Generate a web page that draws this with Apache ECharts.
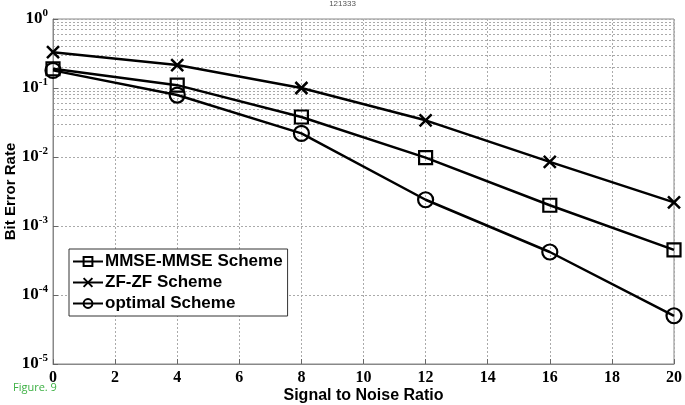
<!DOCTYPE html>
<html><head><meta charset="utf-8">
<script src="https://cdn.jsdelivr.net/npm/echarts@6/dist/echarts.min.js"></script>
<style>html,body{margin:0;padding:0;background:#fff}#c{width:685px;height:405px}</style>
</head><body><div id="c"></div>
<script>
var snr = [0, 4, 8, 12, 16, 20];
var mmse = [0.19, 0.11, 0.038, 0.0098, 0.0020, 0.00045];
var zf = [0.33, 0.215, 0.10, 0.034, 0.0085, 0.0022];
var optimal = [0.18, 0.079, 0.022, 0.0024, 0.00042, 0.00005];
var minorTicks = [];
[1e-5, 1e-4, 1e-3, 1e-2, 1e-1].forEach(function (d) {
  for (var k = 2; k <= 9; k++) minorTicks.push(+(d * k).toPrecision(3));
});
function pairs(v) { return snr.map(function (x, i) { return [x, v[i]]; }); }
var chart = echarts.init(document.getElementById('c'));
var lineW = 2.5;
chart.setOption({
  animation: false,
  graphic: [
    { type: 'text', left: 'center', top: 0, style: { text: '121333', fontSize: 8, fill: '#555', fontFamily: 'Liberation Sans' } },
    { type: 'text', left: 13, top: 382, style: { text: 'Figure. 9', fontSize: 11, fill: '#3cb043', fontFamily: 'Open Sans' } }
  ],
  grid: { left: 53, right: 11, top: 19, bottom: 41, show: true, borderColor: '#888', borderWidth: 1, containLabel: false, outerBoundsMode: 'none' },
  xAxis: {
    type: 'value', min: 0, max: 20, interval: 2,
    name: 'Signal to Noise Ratio', nameLocation: 'middle', nameGap: 24, nameMoveOverlap: false,
    nameTextStyle: { fontFamily: 'Liberation Sans', fontWeight: 'bold', fontSize: 16, color: '#000' },
    axisLine: { lineStyle: { color: '#888' } },
    axisTick: { inside: true, length: 5, lineStyle: { color: '#666' } },
    axisLabel: { fontFamily: 'Liberation Serif', fontWeight: 'bold', fontSize: 16, color: '#000', margin: 6 },
    splitLine: { lineStyle: { type: [2, 2], color: '#aaa' } }
  },
  yAxis: {
    type: 'log', logBase: 10, min: 1e-5, max: 1,
    name: 'Bit Error Rate', nameLocation: 'middle', nameGap: 35, nameMoveOverlap: false,
    nameTextStyle: { fontFamily: 'Liberation Sans', fontWeight: 'bold', fontSize: 15, color: '#000' },
    axisLine: { lineStyle: { color: '#888' } },
    axisTick: { inside: true, length: 5, lineStyle: { color: '#666' } },
    axisLabel: {
      margin: 5,
      formatter: function (v) { return '{b|10}{s|' + Math.round(Math.log10(v)) + '}'; },
      rich: {
        b: { fontFamily: 'Liberation Serif', fontWeight: 'bold', fontSize: 17, color: '#000' },
        s: { fontFamily: 'Liberation Serif', fontWeight: 'bold', fontSize: 11, color: '#000', verticalAlign: 'bottom', padding: [0, 0, 11, 0] }
      }
    },
    splitLine: { lineStyle: { type: [2, 2], color: '#aaa' } }
  },
  legend: {
    left: 69, top: 249, orient: 'vertical', backgroundColor: '#fff',
    borderColor: '#333', borderWidth: 1, padding: [4, 5, 4, 3], itemGap: 4,
    itemWidth: 30, itemHeight: 11,
    textStyle: { fontFamily: 'Liberation Sans', fontWeight: 'bold', fontSize: 17, color: '#000', padding: [0, 0, 0, -3] },
    data: ['MMSE-MMSE Scheme', 'ZF-ZF Scheme', 'optimal Scheme']
  },
  series: [
    {
      name: 'minor', type: 'line', data: [], silent: true, z: 0,
      markLine: {
        silent: true, symbol: 'none', label: { show: false }, z: 0,
        lineStyle: { type: [2, 2], color: '#aaa', width: 1 },
        data: minorTicks.map(function (t) { return { yAxis: t }; })
      }
    },
    {
      name: 'MMSE-MMSE Scheme', type: 'line', data: pairs(mmse), z: 5,
      symbol: 'rect', symbolSize: 13,
      lineStyle: { color: '#000', width: lineW },
      itemStyle: { color: 'rgba(255,255,255,0)', borderColor: '#000', borderWidth: 2.2 }
    },
    {
      name: 'ZF-ZF Scheme', type: 'line', data: pairs(zf), z: 5,
      symbol: 'path://M0,0 L10,10 M10,0 L0,10', symbolSize: 12,
      lineStyle: { color: '#000', width: lineW },
      itemStyle: { color: 'rgba(0,0,0,0)', borderColor: '#000', borderWidth: 2.5 }
    },
    {
      name: 'optimal Scheme', type: 'line', data: pairs(optimal), z: 5,
      symbol: 'circle', symbolSize: 15,
      lineStyle: { color: '#000', width: lineW },
      itemStyle: { color: 'rgba(255,255,255,0)', borderColor: '#000', borderWidth: 2.2 }
    }
  ]
});
</script></body></html>
